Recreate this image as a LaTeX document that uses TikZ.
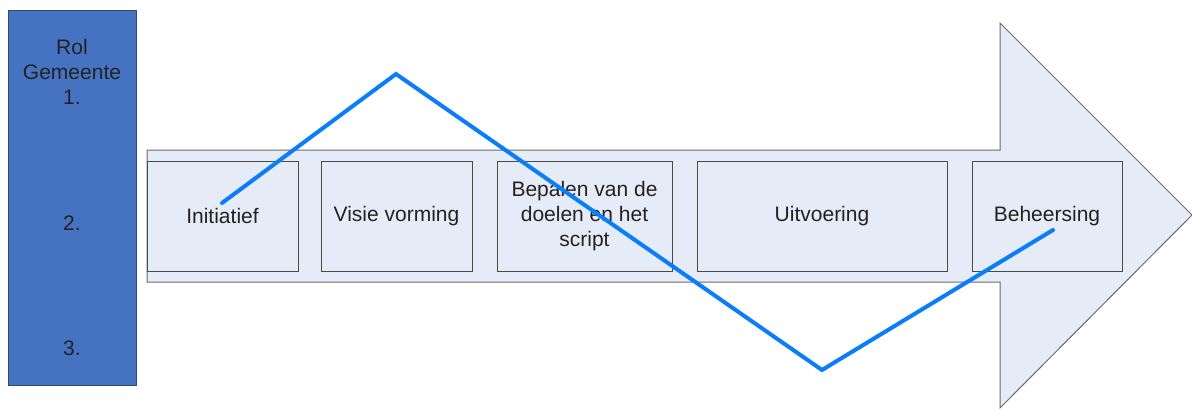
\documentclass[tikz,border=0pt]{standalone}
\usepackage{fontspec}
\setmainfont{Liberation Sans}
\definecolor{panelblue}{HTML}{4573C1}
\definecolor{paneledge}{HTML}{2E4A78}
\definecolor{arrowfill}{HTML}{E6ECF7}
\definecolor{arrowedge}{HTML}{6A6A6A}
\definecolor{boxedge}{HTML}{4A4A4A}
\definecolor{pathblue}{HTML}{0A7DFA}
\definecolor{txt}{HTML}{222222}
\tikzset{
  phase/.style={draw=boxedge, line width=1pt, fill=arrowfill, inner sep=0pt,
    minimum height=110pt, text=txt, align=center,
    font=\fontsize{21}{25}\selectfont},
  roltext/.style={text=txt, align=center, inner sep=0pt,
    font=\fontsize{21}{25}\selectfont},
  route/.style={draw=pathblue, line width=4pt, line join=miter, line cap=round}
}
\begin{document}
\begin{tikzpicture}[x=1pt, y=-1pt]
  \useasboundingbox (0,0) rectangle (1192,410);
  % role panel
  \node[draw=paneledge, line width=1pt, fill=panelblue, minimum width=128pt,
        minimum height=375pt, inner sep=0pt] (panel) at (72,197.5) {};
  \node[roltext] (rol) at (72,72) {Rol\\Gemeente\\1.};
  \node[roltext] (r2) at (72,223) {2.};
  \node[roltext] (r3) at (72,348) {3.};
  % process arrow
  \draw[draw=arrowedge, line width=1pt, fill=arrowfill]
    (147,150) -- (1000,150) -- (1000,23) -- (1192,215) -- (1000,408)
    -- (1000,282) -- (147,282) -- cycle;
  % phases
  \node[phase, minimum width=151pt] (p1) at (222.5,216) {Initiatief};
  \node[phase, minimum width=151pt] (p2) at (396.5,216) {Visie vorming};
  \node[phase, minimum width=175pt] (p3) at (584.5,216) {Bepalen van de\\doelen en het\\script};
  \node[phase, minimum width=250pt] (p4) at (822,216) {Uitvoering};
  \node[phase, minimum width=150pt] (p5) at (1047,216) {Beheersing};
  % role route through the phases
  \coordinate (s) at (222,203);
  \coordinate (hi) at (396,74);
  \coordinate (lo) at (822,370);
  \coordinate (e) at (1053,230);
  \draw[route] (s) -- (hi) -- (lo) -- (e);
\end{tikzpicture}
\end{document}
